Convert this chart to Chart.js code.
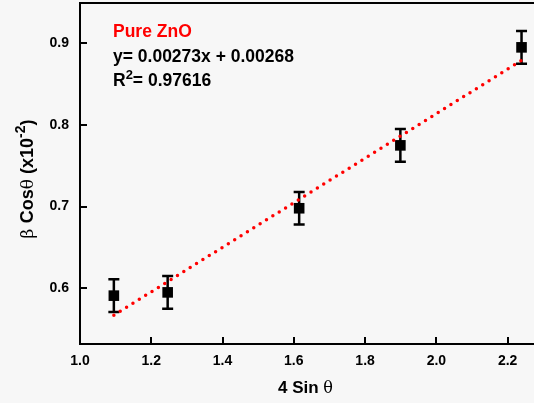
<!DOCTYPE html>
<html>
<head>
<meta charset="utf-8">
<script src="https://cdn.jsdelivr.net/npm/chart.js@4.4.1/dist/chart.umd.min.js"></script>
<style>
  body { margin: 0; background: #f7f7f7; }
  #wrap { width: 534px; height: 403px; }
</style>
</head>
<body>
<div id="wrap"><canvas id="wh" width="534" height="403"></canvas></div>
<script>
// 측정값 (4 Sin θ, β Cosθ ×10^-2)
const xValues = [1.095, 1.246, 1.615, 1.899, 2.239];
const yValues = [0.591, 0.595, 0.698, 0.775, 0.895];
const yErrors = [0.020, 0.020, 0.020, 0.020, 0.020];

// 선형 피팅 직선 양 끝점
const fitX = [1.095, 2.239];
const fitY = [0.567, 0.879];

// 눈금
const xTicks = [1.0, 1.2, 1.4, 1.6, 1.8, 2.0, 2.2];
const yTicks = [0.6, 0.7, 0.8, 0.9];

const seriesLabel = 'Pure ZnO';
const fitText = 'y= 0.00273x + 0.00268';
const r2Value = '= 0.97616';

const FONT = '"Liberation Sans", Arial, sans-serif';
const SERIF = '"DejaVu Serif", "Liberation Serif", serif';

// 글자 조각들을 이어서 그리기 (윗첨자, 기호 글꼴용)
function runsWidth(ctx, runs) {
    let w = 0;
    runs.forEach(r => { ctx.font = r.font; w += ctx.measureText(r.text).width; });
    return w;
}
function drawRuns(ctx, runs, x, y) {
    runs.forEach(r => {
        ctx.font = r.font;
        ctx.fillText(r.text, x, y + (r.dy || 0));
        x += ctx.measureText(r.text).width;
    });
}

const extras = {
    id: 'extras',
    beforeDatasetsDraw(chart) {
        // 오차 막대
        const ctx = chart.ctx;
        const xs = chart.scales.x, ys = chart.scales.y;
        ctx.save();
        ctx.strokeStyle = '#000';
        ctx.lineWidth = 2.5;
        xValues.forEach((xv, i) => {
            const px = xs.getPixelForValue(xv);
            const top = ys.getPixelForValue(yValues[i] + yErrors[i]);
            const bot = ys.getPixelForValue(yValues[i] - yErrors[i]);
            ctx.beginPath();
            ctx.moveTo(px, top); ctx.lineTo(px, bot);
            ctx.moveTo(px - 5.5, top); ctx.lineTo(px + 5.5, top);
            ctx.moveTo(px - 5.5, bot); ctx.lineTo(px + 5.5, bot);
            ctx.stroke();
        });
        ctx.restore();
    },
    afterDraw(chart) {
        const ctx = chart.ctx;
        const {left, right, top, bottom} = chart.chartArea;
        const xs = chart.scales.x, ys = chart.scales.y;
        ctx.save();
        ctx.strokeStyle = '#000';
        ctx.lineWidth = 2;
        // 위쪽 테두리
        ctx.beginPath();
        ctx.moveTo(left - 1, top); ctx.lineTo(right, top);
        ctx.stroke();
        // 안쪽 눈금
        ctx.beginPath();
        xTicks.forEach(v => {
            const px = Math.round(xs.getPixelForValue(v));
            ctx.moveTo(px, bottom); ctx.lineTo(px, bottom - 7);
        });
        yTicks.forEach(v => {
            const py = Math.round(ys.getPixelForValue(v));
            ctx.moveTo(left, py); ctx.lineTo(left + 7, py);
        });
        ctx.stroke();

        // 주석 텍스트
        ctx.textBaseline = 'alphabetic';
        ctx.textAlign = 'left';
        ctx.fillStyle = '#ff0000';
        ctx.font = 'bold 17.5px ' + FONT;
        ctx.fillText(seriesLabel, 113, 37);
        ctx.fillStyle = '#000';
        ctx.fillText(fitText, 113, 62);
        drawRuns(ctx, [
            {text: 'R', font: 'bold 17.5px ' + FONT},
            {text: '2', font: 'bold 13px ' + FONT, dy: -7},
            {text: r2Value, font: 'bold 17.5px ' + FONT}
        ], 113, 86);

        // x축 제목
        const xRuns = [
            {text: '4 Sin ', font: 'bold 17px ' + FONT},
            {text: 'θ', font: '16px ' + SERIF}
        ];
        drawRuns(ctx, xRuns, 305.5 - runsWidth(ctx, xRuns) / 2, 393);

        // y축 제목 (회전)
        const yRuns = [
            {text: 'β ', font: '17px ' + SERIF},
            {text: 'Cos', font: 'bold 18px ' + FONT},
            {text: 'θ', font: '17px ' + SERIF},
            {text: ' (x10', font: 'bold 18px ' + FONT},
            {text: '-2', font: 'bold 14px ' + FONT, dy: -8},
            {text: ')', font: 'bold 18px ' + FONT}
        ];
        ctx.translate(33, 179);
        ctx.rotate(-Math.PI / 2);
        drawRuns(ctx, yRuns, -runsWidth(ctx, yRuns) / 2, 0);
        ctx.restore();
    }
};

const ctxScatter = document.getElementById('wh').getContext('2d');
new Chart(ctxScatter, {
    type: 'scatter',
    data: {
        datasets: [{
            label: seriesLabel,
            data: xValues.map((x, i) => ({x: x, y: yValues[i]})),
            pointStyle: 'rect',
            pointRadius: 7.5,
            backgroundColor: '#000',
            borderWidth: 0,
            order: 2
        }, {
            type: 'line',
            label: 'fit',
            data: fitX.map((x, i) => ({x: x, y: fitY[i]})),
            borderColor: '#ff0000',
            borderWidth: 3.5,
            borderDash: [0, 7.5],
            borderCapStyle: 'round',
            pointRadius: 0,
            fill: false,
            order: 1
        }]
    },
    options: {
        responsive: false,
        animation: false,
        events: [],
        layout: {autoPadding: false, padding: {left: 0, right: 0, top: 3, bottom: 0}},
        plugins: {
            legend: {display: false},
            tooltip: {enabled: false}
        },
        scales: {
            x: {
                type: 'linear',
                min: 1.0,
                max: 2.274,
                grid: {display: false, drawTicks: false},
                border: {display: true, color: '#000', width: 2},
                afterBuildTicks: s => { s.ticks = xTicks.map(v => ({value: v})); },
                afterFit: s => { s.height = 59; s.paddingLeft = 0; s.paddingRight = 0; },
                ticks: {
                    color: '#000',
                    padding: 9,
                    font: {family: FONT, size: 14, weight: 'bold'},
                    callback: v => v.toFixed(1)
                }
            },
            y: {
                type: 'linear',
                min: 0.5318,
                max: 0.9493,
                grid: {display: false, drawTicks: false},
                border: {display: true, color: '#000', width: 2},
                afterBuildTicks: s => { s.ticks = yTicks.map(v => ({value: v})); },
                afterFit: s => { s.width = 80; s.paddingTop = 0; s.paddingBottom = 0; },
                ticks: {
                    color: '#000',
                    padding: 11,
                    font: {family: FONT, size: 14, weight: 'bold'},
                    callback: v => v.toFixed(1)
                }
            }
        }
    },
    plugins: [extras]
});
</script>
</body>
</html>
